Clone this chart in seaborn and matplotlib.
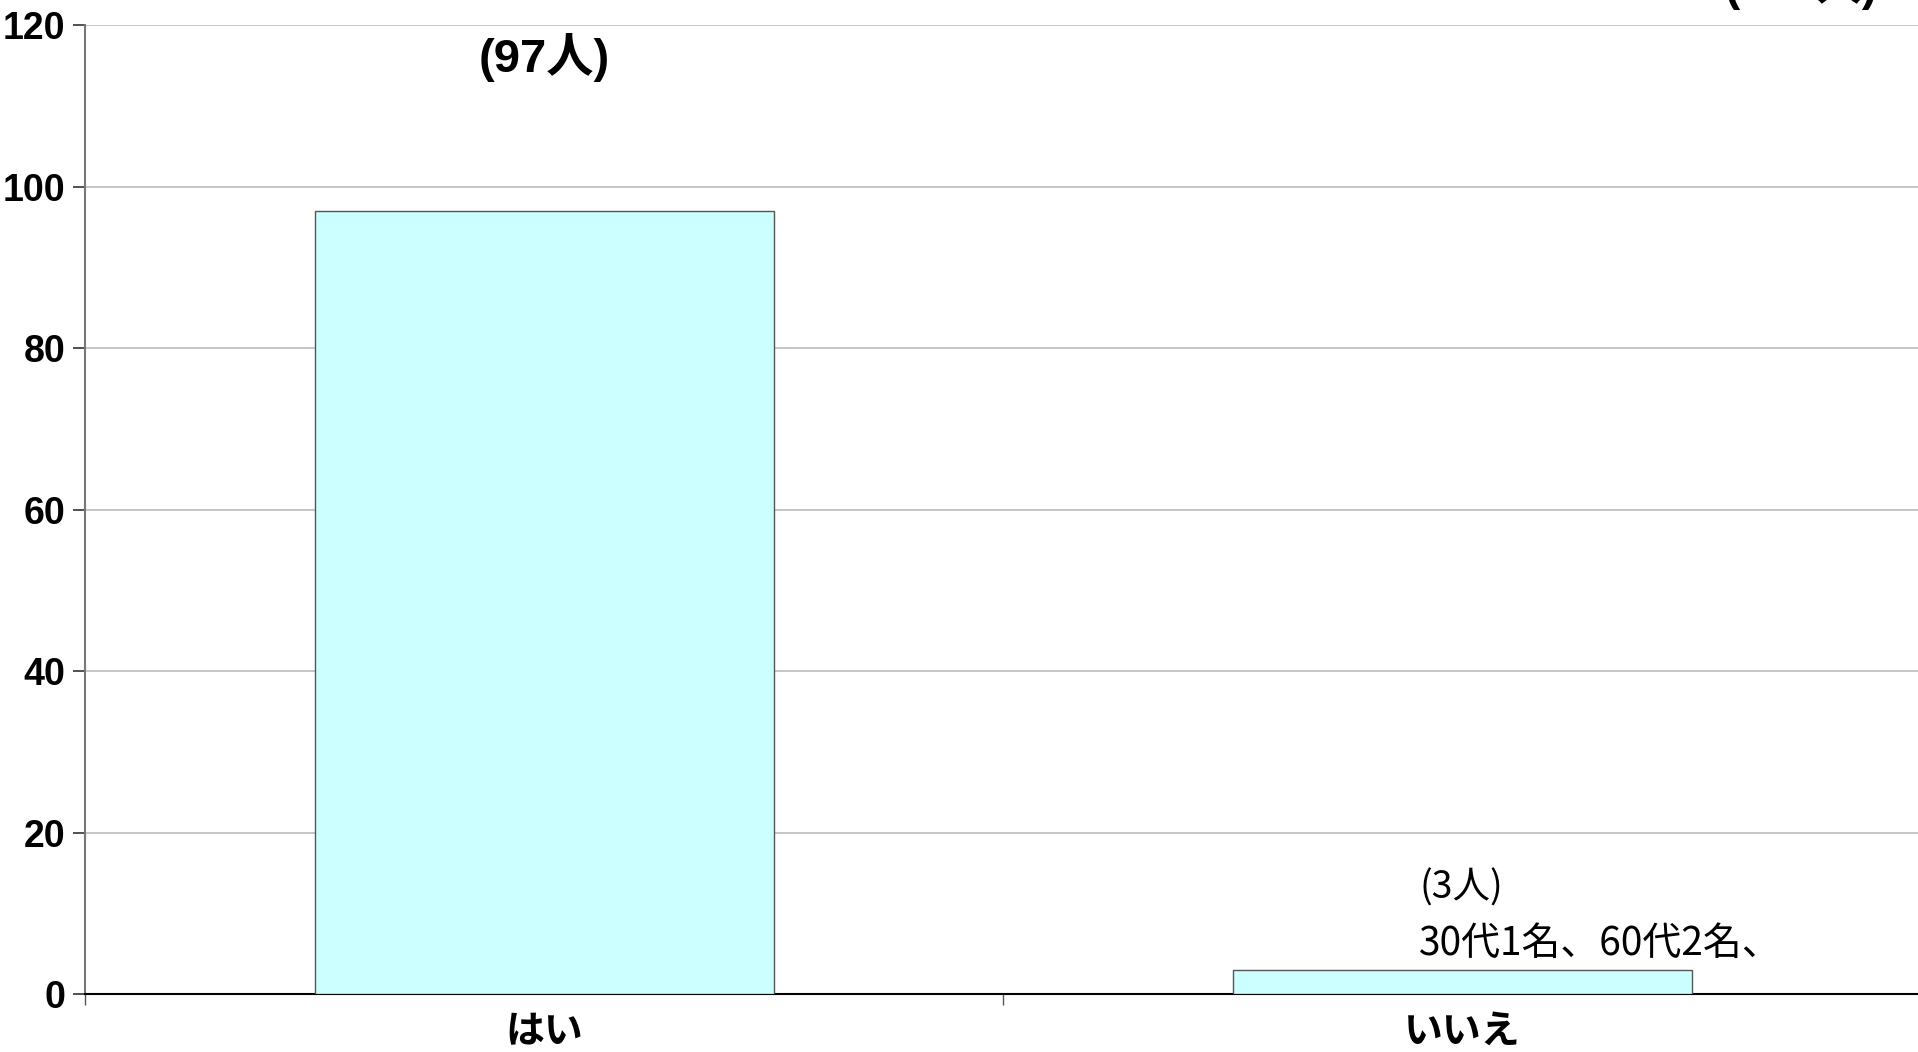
import pandas as pd
import matplotlib.pyplot as plt
import seaborn as sns
from matplotlib.ticker import FixedLocator, NullFormatter

# data
categories = ["はい", "いいえ"]
counts = [97, 3]
count_labels = ["(97人)", "(3人)"]
detail_label = "30代1名、60代2名、"
total_label = "(100人)"
y_ticks = [0, 20, 40, 60, 80, 100, 120]

df = pd.DataFrame({"answer": categories, "count": counts})

sns.set_style("white")
plt.rcParams["font.family"] = ["Liberation Sans", "Noto Sans CJK JP", "DejaVu Sans"]
plt.rcParams["text.color"] = "black"
plt.rcParams["xtick.labelcolor"] = "black"
plt.rcParams["ytick.labelcolor"] = "black"

fig = plt.figure(figsize=(19.18, 10.52), dpi=100)
ax = fig.add_axes([0.0443, 0.0551, 0.9575, 0.921])

sns.barplot(data=df, x="answer", y="count", color="#CCFFFF", saturation=1,
            width=0.5, edgecolor="#555555", linewidth=1.0, ax=ax, zorder=3)

ax.set_xlim(-0.5, 1.5)
ax.set_ylim(0, 120)
ax.set_yticks(y_ticks)
ax.set_yticklabels([str(v) for v in y_ticks], fontsize=27, fontweight="bold",
                   family=["Liberation Sans", "DejaVu Sans"])
ax.yaxis.grid(True, color="#C0C0C0", linewidth=1.3, zorder=0)
ax.set_axisbelow(True)
ax.tick_params(axis="y", length=9, width=1.2, color="#333333", pad=5, left=True)

# category separators as major ticks, names as minor ticks
ax.xaxis.set_major_locator(FixedLocator([-0.5, 0.5, 1.5]))
ax.xaxis.set_major_formatter(NullFormatter())
ax.xaxis.set_minor_locator(FixedLocator([0, 1]))
ax.set_xticklabels(categories, minor=True, fontsize=28, fontweight="bold",
                   family=["Noto Sans CJK JP"])
ax.tick_params(axis="x", which="major", length=8, width=1.0, color="#555555", bottom=True)
ax.tick_params(axis="x", which="minor", length=0, pad=13)
ax.set_xlabel("")
ax.set_ylabel("")

for side in ["top", "right"]:
    ax.spines[side].set_visible(False)
ax.spines["left"].set_color("#777777")
ax.spines["left"].set_linewidth(1.5)
ax.spines["bottom"].set_color("#000000")
ax.spines["bottom"].set_linewidth(1.5)

ax.text(0, 116, count_labels[0], ha="center", va="center", fontsize=34,
        fontweight="bold", family=["Liberation Sans", "Noto Sans CJK JP"])
ax.text(0.953, 13.1, count_labels[1], ha="left", va="center", fontsize=27,
        family=["Noto Sans CJK JP"])
ax.text(0.953, 6.2, detail_label, ha="left", va="center", fontsize=28,
        family=["Noto Sans CJK JP"])

fig.text(0.899, 0.9905, total_label, ha="left", va="bottom", fontsize=33,
         fontweight="bold", family=["Liberation Sans", "Noto Sans CJK JP"])

fig.savefig("out.png", dpi=100)
